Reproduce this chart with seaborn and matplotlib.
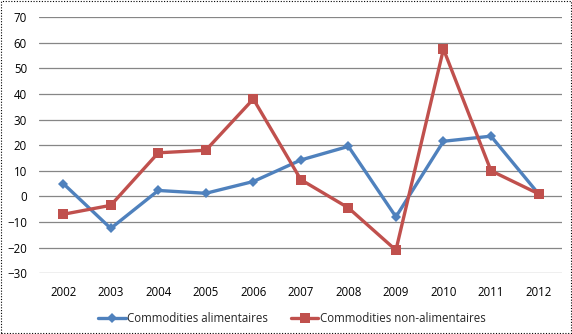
import matplotlib
matplotlib.use("Agg")
import matplotlib.pyplot as plt
import seaborn as sns
import pandas as pd
from matplotlib.patches import Rectangle

years = ["2002", "2003", "2004", "2005", "2006", "2007", "2008", "2009", "2010", "2011", "2012"]
alimentaires = [5, -12.5, 2.3, 1.2, 5.8, 14.2, 19.5, -8, 21.5, 23.5, 1]
non_alimentaires = [-7, -3.5, 17, 18, 38, 6.5, -4.5, -21, 57.5, 10, 1]
series_names = ["Commodities alimentaires", "Commodities non-alimentaires"]
y_ticks = [-30, -20, -10, 0, 10, 20, 30, 40, 50, 60, 70]

df = pd.DataFrame({
    "year": years * 2,
    "value": alimentaires + non_alimentaires,
    "series": [series_names[0]] * len(years) + [series_names[1]] * len(years),
})

sns.set_style("white")
plt.rcParams["font.family"] = ["Open Sans", "DejaVu Sans"]

fig = plt.figure(figsize=(5.72, 3.34), dpi=100)
ax = fig.add_axes([0.069, 0.182, 0.914, 0.767])

palette = {series_names[0]: "#4F81BD", series_names[1]: "#C0504D"}
sns.lineplot(data=df, x="year", y="value", hue="series", style="series",
             markers={series_names[0]: "D", series_names[1]: "s"},
             dashes=False, palette=palette, linewidth=2.4, markersize=7,
             markeredgewidth=0, ax=ax, sort=False)

# diamond markers are a bit smaller
for line in ax.get_lines():
    if line.get_marker() == "D":
        line.set_markersize(5.5)

ax.set_xlim(-0.5, len(years) - 0.5)
ax.set_ylim(-30, 70)
ax.set_yticks(y_ticks)
ax.yaxis.grid(True, color="#868686", linewidth=0.9)
ax.set_axisbelow(True)
for s in ax.spines.values():
    s.set_visible(False)
ax.tick_params(axis="both", length=0, labelsize=8.3, colors="#000000")
ax.tick_params(axis="y", pad=9)
ax.tick_params(axis="x", pad=9)
ax.set_xlabel("")
ax.set_ylabel("")

handles, labels = ax.get_legend_handles_labels()
ax.legend_.remove()
for h in handles:
    if h.get_marker() == "D":
        h.set_markersize(5.5)
fig.legend(handles, labels, loc="center", bbox_to_anchor=(0.51, 0.045), ncol=2,
           frameon=False, fontsize=8.3, handlelength=2.4, columnspacing=2.0,
           handletextpad=0.1)

fig.patches.append(Rectangle((0.002, 0.003), 0.996, 0.994, transform=fig.transFigure,
                             fill=False, edgecolor="#000000", linewidth=0.8,
                             linestyle=(0, (1, 1.5))))

fig.savefig("out.png", dpi=100)
